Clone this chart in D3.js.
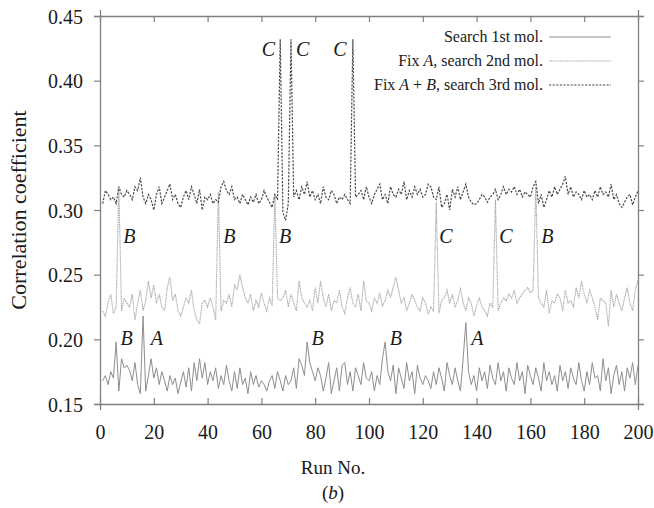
<!DOCTYPE html>
<html>
<head>
<meta charset="utf-8">
<script src="https://cdn.jsdelivr.net/npm/d3@7"></script>
<style>
  body { margin: 0; background: #fff; }
  svg text { font-family: "Liberation Serif", "Times New Roman", Times, serif !important; fill: #1a1a1a; }
</style>
</head>
<body>
<div id="chart"></div>
<script>
// values, runs 1..200
const search1 = [
  .168,.172,.165,.175,.170,.198,.160,.185,.178,.180,
  .176,.168,.182,.165,.158,.218,.160,.172,.185,.170,
  .178,.165,.175,.168,.160,.172,.165,.170,.158,.167,
  .175,.163,.178,.160,.182,.168,.185,.170,.182,.165,
  .175,.168,.178,.162,.172,.165,.180,.168,.160,.175,
  .162,.178,.165,.170,.158,.175,.165,.172,.163,.168,
  .165,.160,.168,.172,.162,.175,.168,.160,.172,.165,
  .168,.178,.162,.185,.180,.172,.198,.182,.175,.168,
  .178,.172,.160,.170,.182,.158,.168,.178,.160,.180,
  .182,.165,.175,.160,.178,.172,.165,.182,.170,.168,
  .175,.160,.172,.165,.185,.198,.175,.168,.180,.158,
  .178,.170,.162,.182,.168,.175,.158,.180,.170,.165,
  .172,.168,.162,.175,.165,.178,.170,.160,.182,.172,
  .165,.178,.168,.160,.185,.213,.175,.165,.172,.160,
  .178,.168,.175,.162,.180,.170,.165,.182,.168,.175,
  .160,.178,.170,.165,.182,.168,.175,.158,.180,.172,
  .165,.178,.170,.160,.182,.168,.175,.165,.172,.160,
  .180,.168,.175,.162,.178,.170,.165,.182,.168,.160,
  .175,.165,.182,.170,.172,.160,.185,.168,.178,.158,
  .172,.180,.165,.175,.160,.178,.170,.182,.165,.180
];
const fixA = [
  .222,.218,.228,.235,.220,.225,.318,.222,.232,.228,
  .225,.235,.215,.228,.238,.222,.230,.245,.232,.242,
  .228,.235,.225,.222,.240,.248,.230,.235,.222,.218,
  .225,.232,.228,.238,.222,.215,.212,.228,.230,.225,
  .232,.225,.215,.314,.222,.230,.228,.235,.225,.242,
  .238,.250,.240,.232,.228,.235,.222,.230,.225,.236,
  .228,.222,.232,.226,.312,.232,.230,.232,.238,.225,
  .235,.228,.222,.245,.232,.228,.225,.230,.222,.240,
  .228,.245,.232,.225,.235,.222,.230,.228,.238,.225,
  .220,.232,.240,.228,.225,.235,.222,.245,.230,.228,
  .222,.232,.228,.235,.226,.230,.238,.232,.240,.248,
  .238,.228,.232,.222,.228,.235,.230,.225,.222,.232,
  .228,.220,.225,.222,.306,.220,.230,.232,.238,.228,
  .235,.225,.230,.240,.228,.222,.232,.228,.218,.226,
  .232,.225,.222,.218,.228,.225,.308,.222,.228,.232,
  .230,.235,.232,.238,.228,.232,.235,.238,.240,.236,
  .238,.318,.232,.228,.225,.238,.220,.230,.228,.235,
  .232,.222,.238,.228,.230,.225,.240,.232,.245,.235,
  .228,.238,.232,.225,.215,.232,.230,.228,.210,.238,
  .225,.235,.228,.222,.232,.240,.228,.222,.238,.246
];
const fixAB = [
  .305,.315,.312,.308,.310,.305,.318,.312,.310,.315,
  .312,.308,.318,.315,.325,.310,.305,.312,.308,.300,
  .312,.318,.305,.310,.315,.320,.308,.312,.305,.302,
  .310,.315,.308,.318,.312,.305,.316,.300,.310,.308,
  .312,.305,.308,.306,.318,.322,.315,.312,.318,.308,
  .310,.305,.312,.308,.304,.310,.306,.312,.305,.308,
  .315,.310,.306,.302,.312,.308,.432,.298,.292,.305,
  .432,.310,.315,.308,.318,.312,.322,.310,.315,.308,
  .312,.305,.318,.310,.308,.315,.312,.305,.310,.308,
  .312,.308,.305,.432,.310,.312,.315,.308,.318,.310,
  .305,.312,.316,.320,.308,.312,.305,.318,.312,.310,
  .316,.312,.322,.308,.315,.310,.318,.312,.316,.310,
  .312,.320,.318,.310,.308,.318,.302,.305,.312,.300,
  .316,.310,.318,.308,.314,.320,.310,.306,.304,.305,
  .308,.312,.310,.306,.310,.312,.316,.308,.312,.318,
  .312,.316,.314,.318,.312,.316,.310,.314,.312,.310,
  .318,.322,.305,.312,.302,.308,.315,.310,.318,.312,
  .316,.320,.326,.312,.318,.310,.314,.312,.308,.315,
  .310,.312,.308,.315,.310,.318,.312,.314,.310,.320,
  .308,.312,.305,.302,.306,.310,.312,.304,.310,.315
];
const seriesNames = ["Search 1st mol.", "Fix A, search 2nd mol.", "Fix A + B, search 3rd mol."];
const xTicks = [0, 20, 40, 60, 80, 100, 120, 140, 160, 180, 200];
const yTicks = [0.15, 0.20, 0.25, 0.30, 0.35, 0.40, 0.45];

// peak labels: letter, run, value
const peakText = ["C", "C", "C", "B", "B", "B", "C", "C", "B", "B", "A", "B", "B", "A"];
const peakRun  = [62.6, 75.3, 89.2, 10.9, 48.1, 68.8, 128.6, 150.9, 166.3, 9.9, 21.1, 80.9, 110, 140.3];
const peakVal  = [0.419, 0.419, 0.419, 0.2745, 0.2745, 0.2745, 0.2745, 0.2745, 0.2745, 0.1956, 0.1956, 0.1956, 0.1956, 0.1956];

const width = 654, height = 508;
const margin = {top: 16, right: 16, bottom: 104, left: 100};
const serif = '"Liberation Serif", "Times New Roman", Times, serif';

const svg = d3.select("#chart").append("svg")
    .attr("width", width)
    .attr("height", height)
    .attr("font-family", serif);

const x = d3.scaleLinear().domain([0, 200]).range([margin.left, width - margin.right]);
const y = d3.scaleLinear().domain([0.15, 0.45]).range([height - margin.bottom, margin.top]);

const frameColor = "#808080";
const tickLen = 6;

// axes, ticks pointing inward on all four sides
const axes = [
    d3.axisBottom(x).tickValues(xTicks).tickSize(tickLen).tickFormat(d => d),
    d3.axisTop(x).tickValues(xTicks).tickSize(tickLen).tickFormat(""),
    d3.axisLeft(y).tickValues(yTicks).tickSize(tickLen).tickFormat(d3.format(".2f")),
    d3.axisRight(y).tickValues(yTicks).tickSize(tickLen).tickFormat("")
];
const pos = [
    `translate(0,${y(0.15)})`, `translate(0,${y(0.45)})`,
    `translate(${x(0)},0)`, `translate(${x(200)},0)`
];
axes.forEach((ax, i) => {
    const g = svg.append("g").attr("transform", pos[i]).call(ax)
        .attr("font-family", serif);
    g.select(".domain").attr("stroke", frameColor).attr("stroke-width", 1.3);
    g.selectAll(".tick line").attr("stroke", frameColor).attr("stroke-width", 1.2)
        .attr(i < 2 ? "y2" : "x2", i === 0 || i === 2 ? -tickLen : tickLen);
    g.selectAll(".tick text").attr("font-size", 20).attr("fill", "#1a1a1a");
    if (i === 0) g.selectAll(".tick text").attr("dy", null).attr("y", 35);
    if (i === 2) g.selectAll(".tick text").attr("x", -17).attr("dy", "0.35em");
});

// series lines
const line = d3.line().x((d, i) => x(i + 1)).y(d => y(d));
const styles = [
    {stroke: "#8e8e8e", width: 1.0, dash: null},
    {stroke: "#ababab", width: 1.1, dash: "1.2,0.6"},
    {stroke: "#4a4a4a", width: 1.2, dash: "2.2,1.4"}
];
[search1, fixA, fixAB].forEach((s, k) => {
    svg.append("path")
        .datum(s)
        .attr("fill", "none")
        .attr("stroke", styles[k].stroke)
        .attr("stroke-width", styles[k].width)
        .attr("stroke-dasharray", styles[k].dash)
        .attr("d", line);
});

// peak letters
svg.selectAll("text.peak")
    .data(peakText)
    .enter()
    .append("text")
    .attr("class", "peak")
    .attr("x", (d, i) => x(peakRun[i]))
    .attr("y", (d, i) => y(peakVal[i]))
    .attr("text-anchor", "middle")
    .attr("font-size", 20)
    .attr("font-style", "italic")
    .text(d => d);

// legend
const legendY = [37, 61, 85];
const legend = svg.append("g");
seriesNames.forEach((name, k) => {
    const t = legend.append("text")
        .attr("x", 543)
        .attr("y", legendY[k] + 5)
        .attr("text-anchor", "end")
        .attr("font-size", 16);
    if (k === 0) {
        t.text(name);
    } else if (k === 1) {
        t.append("tspan").text("Fix ");
        t.append("tspan").attr("font-style", "italic").text("A");
        t.append("tspan").text(", search 2nd mol.");
    } else {
        t.append("tspan").text("Fix ");
        t.append("tspan").attr("font-style", "italic").text("A");
        t.append("tspan").text(" + ");
        t.append("tspan").attr("font-style", "italic").text("B");
        t.append("tspan").text(", search 3rd mol.");
    }
    legend.append("line")
        .attr("x1", 549).attr("x2", 611)
        .attr("y1", legendY[k]).attr("y2", legendY[k])
        .attr("stroke", styles[k].stroke)
        .attr("stroke-width", styles[k].width)
        .attr("stroke-dasharray", styles[k].dash);
});

// axis titles
svg.append("text")
    .attr("x", 333).attr("y", 474)
    .attr("text-anchor", "middle")
    .attr("font-size", 19)
    .text("Run No.");

const sub = svg.append("text")
    .attr("x", 333).attr("y", 499)
    .attr("text-anchor", "middle")
    .attr("font-size", 19);
sub.append("tspan").text("(");
sub.append("tspan").attr("font-style", "italic").text("b");
sub.append("tspan").text(")");

svg.append("text")
    .attr("transform", `translate(26,${(y(0.15) + y(0.45)) / 2}) rotate(-90)`)
    .attr("text-anchor", "middle")
    .attr("font-size", 22)
    .text("Correlation coefficient");
</script>
</body>
</html>
